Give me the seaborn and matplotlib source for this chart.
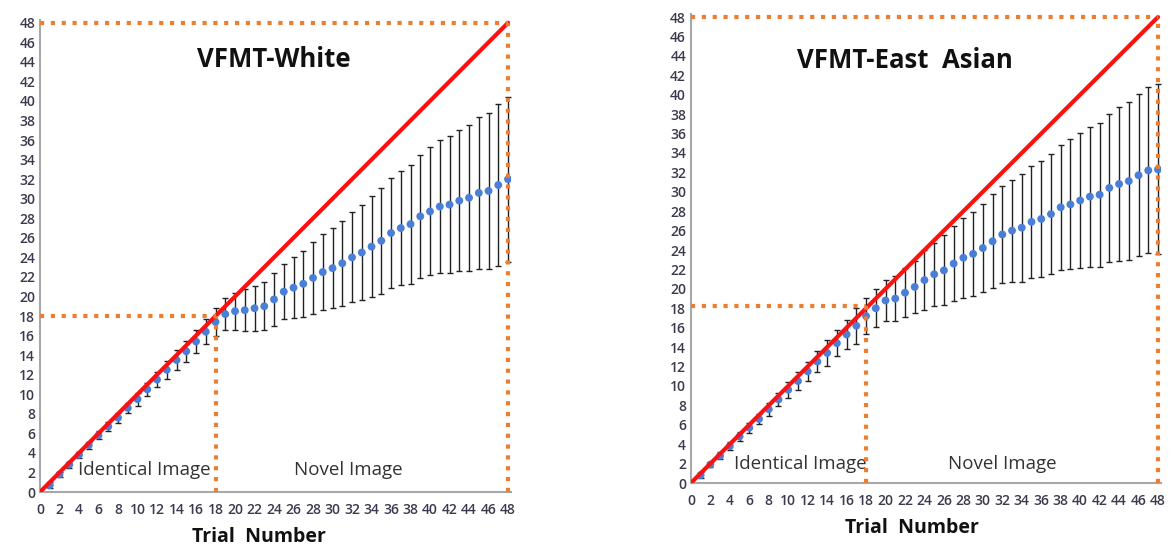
import numpy as np
import matplotlib
matplotlib.use("Agg")
import matplotlib.pyplot as plt
import seaborn as sns

trials = list(range(1, 49))

white_mean = [0.7, 1.8, 2.8, 3.8, 4.8, 5.8, 6.7, 7.6, 8.6, 9.5, 10.5, 11.5, 12.5, 13.5, 14.4, 15.4,
              16.4, 17.4, 18.2, 18.5, 18.6, 18.8, 19.0, 19.7, 20.5, 20.9, 21.3, 21.9, 22.5, 22.9,
              23.4, 24.0, 24.5, 25.1, 25.7, 26.5, 27.0, 27.4, 28.2, 28.7, 29.2, 29.4, 29.8, 30.1,
              30.6, 30.8, 31.4, 32.0]
white_sd = [0.3, 0.3, 0.3, 0.3, 0.35, 0.4, 0.45, 0.5, 0.55, 0.65, 0.7, 0.8, 0.9, 1.0, 1.1, 1.2,
            1.3, 1.4, 1.6, 1.9, 2.15, 2.3, 2.45, 2.7, 2.85, 3.1, 3.4, 3.65, 3.85, 4.1,
            4.35, 4.6, 4.9, 5.15, 5.4, 5.6, 5.85, 6.1, 6.3, 6.55, 6.8, 7.0, 7.2, 7.45,
            7.75, 8.0, 8.3, 8.45]

asian_mean = [0.8, 1.9, 2.8, 3.8, 4.8, 5.7, 6.6, 7.6, 8.6, 9.6, 10.5, 11.5, 12.5, 13.4, 14.4, 15.3,
              16.2, 17.2, 18.0, 18.8, 19.0, 19.6, 20.2, 20.9, 21.5, 21.9, 22.6, 23.2, 23.6, 24.2,
              24.9, 25.6, 26.0, 26.3, 26.9, 27.2, 27.7, 28.4, 28.7, 29.1, 29.5, 29.7, 30.4, 30.8,
              31.1, 31.7, 32.2, 32.3]
asian_sd = [0.3, 0.3, 0.35, 0.4, 0.45, 0.5, 0.55, 0.65, 0.7, 0.8, 0.9, 1.0, 1.1, 1.3, 1.35, 1.45,
            1.85, 1.85, 1.95, 2.15, 2.35, 2.5, 2.65, 3.05, 3.25, 3.6, 3.85, 4.1, 4.3, 4.55,
            4.85, 5.0, 5.25, 5.55, 5.75, 6.0, 6.2, 6.45, 6.7, 6.95, 7.2, 7.4, 7.6, 7.9,
            8.1, 8.35, 8.55, 8.75]

ideal = [0, 48]
switch_trial = 18
max_trial = 48

panels = [
    ("VFMT-White", white_mean, white_sd, [0.0341, 0.107, 0.4015, 0.857], (24.0, 44.2), 18.0, (10.7, 31.6), 2.3, 0.465),
    ("VFMT-East  Asian", asian_mean, asian_sd, [0.589, 0.1234, 0.4007, 0.851], (22.0, 43.5), 18.25, (11.2, 32.0), 2.0, 0.47),
]

sns.set_style("white")
plt.rcParams['font.family'] = ['Open Sans', 'DejaVu Sans']

orange = "#ED7D31"
blue = "#4A7FD8"
red = "#FF1010"

fig = plt.figure(figsize=(11.73, 5.51), dpi=100)

for title, mean, sd, rect, tpos, hline_y, lab_x, lab_y, xlab_pos in panels:
    ax = fig.add_axes(rect)
    ax.errorbar(trials, mean, yerr=sd, fmt='none', ecolor='#222222', elinewidth=1.0,
                capsize=2, capthick=1.0, zorder=2)
    sns.scatterplot(x=trials, y=mean, ax=ax, color=blue, s=32, edgecolor='none', zorder=3)
    sns.lineplot(x=ideal, y=ideal, ax=ax, color=red, linewidth=3, zorder=4)

    dot = dict(color=orange, linestyle=(0, (1, 1.6)), linewidth=3, clip_on=False, zorder=5)
    ax.plot([0, switch_trial], [hline_y, hline_y], **dot)
    ax.plot([switch_trial, switch_trial], [0, hline_y], **dot)
    ax.plot([0, max_trial], [max_trial, max_trial], **dot)
    ax.plot([max_trial, max_trial], [0, max_trial], **dot)

    ax.set_xlim(0, 48.3)
    ax.set_ylim(0, 48.3)
    ax.set_xticks(range(0, 49, 2))
    ax.set_xticks(range(0, 49, 1), minor=True)
    ax.set_yticks(range(0, 49, 2))
    ax.tick_params(axis='both', which='both', direction='in', length=4, color='#a8a8a8',
                   labelsize=10, labelcolor='#3a3a4e')
    ax.tick_params(axis='x', which='major', pad=8)
    for lbl in ax.get_xticklabels() + ax.get_yticklabels():
        lbl.set_fontweight('semibold')
    for s in ['top', 'right']:
        ax.spines[s].set_visible(False)
    for s in ['left', 'bottom']:
        ax.spines[s].set_color('#a8a8a8')
        ax.spines[s].set_linewidth(1.5)

    ax.text(tpos[0], tpos[1], title, ha='center', va='center', fontsize=18.5,
            fontweight='bold', color='#111111')
    ax.text(lab_x[0], lab_y, "Identical Image", ha='center', va='center', fontsize=13.5, color='#333333')
    ax.text(lab_x[1], lab_y, "Novel Image", ha='center', va='center', fontsize=13.5, color='#333333')
    ax.set_xlabel("Trial  Number", fontsize=14, fontweight='bold', color='#111111')
    ax.xaxis.set_label_coords(xlab_pos, -0.075)
    ax.set_ylabel("")
    ax.set_facecolor('white')

fig.savefig("out.png", dpi=100, facecolor='white')
